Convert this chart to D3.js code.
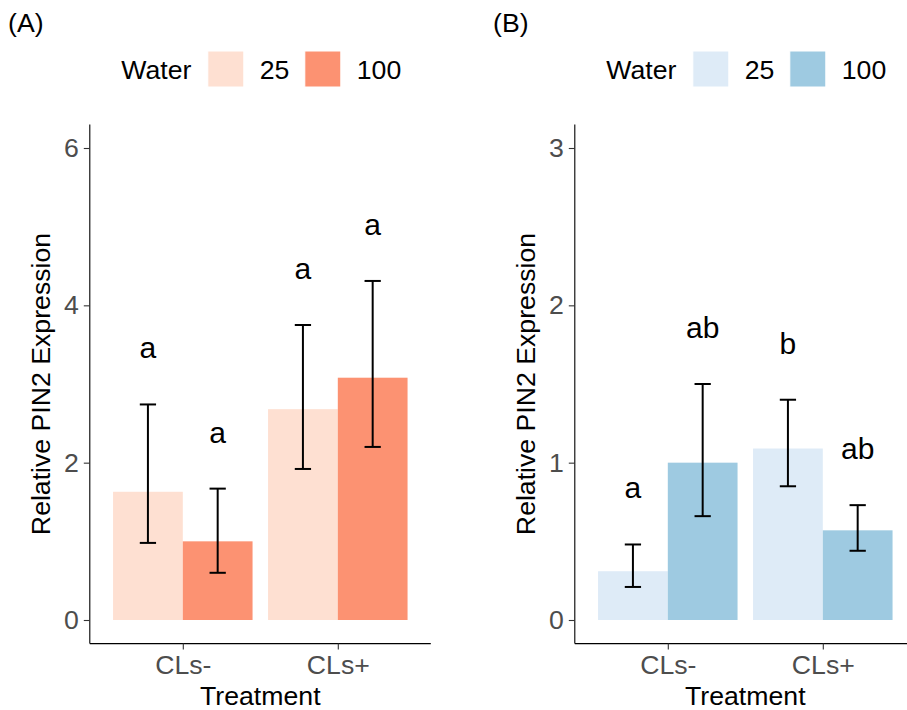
<!DOCTYPE html>
<html>
<head>
<meta charset="utf-8">
<script src="https://cdn.jsdelivr.net/npm/d3@7"></script>
<style>
    body { margin: 0; background: #fff; }
    svg { display: block; font-family: "Liberation Sans", Arial, sans-serif; }
</style>
</head>
<body>
<div id="chart"></div>
<script>
// shared categories
const treatments = ['CLs-', 'CLs+'];
const waterLevels = ['25', '100'];

// panel A (reds)
const meanA25 = [1.63, 2.68];
const meanA100 = [1.00, 3.08];
const lowA25 = [0.98, 1.92];
const highA25 = [2.74, 3.75];
const lowA100 = [0.60, 2.20];
const highA100 = [1.67, 4.31];
const lettersA25 = ['a', 'a'];
const lettersA100 = ['a', 'a'];
const ticksA = [0, 2, 4, 6];

// panel B (blues)
const meanB25 = [0.31, 1.09];
const meanB100 = [1.00, 0.57];
const lowB25 = [0.21, 0.85];
const highB25 = [0.48, 1.40];
const lowB100 = [0.66, 0.44];
const highB100 = [1.50, 0.73];
const lettersB25 = ['a', 'b'];
const lettersB100 = ['ab', 'ab'];
const ticksB = [0, 1, 2, 3];

const width = 907, height = 710;
const fs = '26.67px'; // 20pt base text

const svg = d3.select('#chart').append('svg')
    .attr('width', width)
    .attr('height', height);

function buildRows(means, lows, highs, letters, level) {
    return treatments.map((t, i) => ({
        treatment: t, water: level, mean: means[i], low: lows[i], high: highs[i], letter: letters[i]
    }));
}

function drawPanel(offsetX, tag, colors, ymax, ticks, rows) {
    const g = svg.append('g').attr('transform', `translate(${offsetX},0)`);
    const left = 89.8, right = 430.8, top = 124.4, bottom = 643.6;

    const x = d3.scalePoint().domain(treatments).range([left, right]).padding(0.6);
    const step = x.step();
    const barW = 0.45 * step;
    const pad = ymax * 0.05;
    const y = d3.scaleLinear().domain([-pad, ymax + pad]).range([bottom, top]);
    const color = d3.scaleOrdinal().domain(waterLevels).range(colors);

    const xPos = d => x(d.treatment) - barW + waterLevels.indexOf(d.water) * barW;

    // bars
    g.selectAll('.bar')
        .data(rows)
        .enter().append('rect')
        .attr('class', 'bar')
        .attr('x', xPos)
        .attr('width', barW)
        .attr('y', d => y(d.mean))
        .attr('height', d => y(0) - y(d.mean))
        .attr('fill', d => color(d.water));

    // error bars
    const capW = 0.105 * step;
    const eb = g.selectAll('.err')
        .data(rows)
        .enter().append('g')
        .attr('class', 'err')
        .attr('stroke', '#000')
        .attr('stroke-width', 2);
    eb.append('line')
        .attr('x1', d => xPos(d) + barW / 2).attr('x2', d => xPos(d) + barW / 2)
        .attr('y1', d => y(d.low)).attr('y2', d => y(d.high));
    eb.append('line')
        .attr('x1', d => xPos(d) + barW / 2 - capW / 2).attr('x2', d => xPos(d) + barW / 2 + capW / 2)
        .attr('y1', d => y(d.high)).attr('y2', d => y(d.high));
    eb.append('line')
        .attr('x1', d => xPos(d) + barW / 2 - capW / 2).attr('x2', d => xPos(d) + barW / 2 + capW / 2)
        .attr('y1', d => y(d.low)).attr('y2', d => y(d.low));

    // significance letters
    g.selectAll('.letter')
        .data(rows)
        .enter().append('text')
        .attr('class', 'letter')
        .attr('x', d => xPos(d) + barW / 2)
        .attr('y', d => y(d.high) - 46)
        .attr('text-anchor', 'middle')
        .style('font-size', '30px')
        .text(d => d.letter);

    // axes
    const yAxis = g.append('g')
        .attr('transform', `translate(${left},0)`)
        .call(d3.axisLeft(y).tickValues(ticks).tickSize(6).tickPadding(5).tickFormat(d3.format('d')));
    const xAxis = g.append('g')
        .attr('transform', `translate(0,${bottom})`)
        .call(d3.axisBottom(x).tickSize(6).tickPadding(5));
    [yAxis, xAxis].forEach(a => {
        a.select('.domain').attr('stroke', '#000').attr('stroke-width', 1.1);
        a.selectAll('.tick line').attr('stroke', '#333').attr('stroke-width', 1.1);
        a.selectAll('.tick text').attr('fill', '#4d4d4d').style('font-size', fs);
    });
    // stretch domain lines to the panel edges like ggplot
    yAxis.select('.domain').attr('d', `M0,${bottom}V${top}`);
    xAxis.select('.domain').attr('d', `M${left},0H${right}`);

    // axis titles
    g.append('text')
        .attr('transform', `translate(50,${(top + bottom) / 2}) rotate(-90)`)
        .attr('text-anchor', 'middle')
        .style('font-size', fs)
        .text('Relative PIN2 Expression');
    g.append('text')
        .attr('x', (left + right) / 2)
        .attr('y', 705)
        .attr('text-anchor', 'middle')
        .style('font-size', fs)
        .text('Treatment');

    // tag
    g.append('text')
        .attr('x', 8).attr('y', 32)
        .style('font-size', fs)
        .text(tag);

    // legend, centered over the panel
    const leg = g.append('g')
        .attr('transform', `translate(${(left + right) / 2 - 139},0)`);
    leg.append('text')
        .attr('x', 0).attr('y', 79)
        .style('font-size', fs)
        .text('Water');
    const items = leg.selectAll('.key')
        .data(waterLevels)
        .enter().append('g')
        .attr('class', 'key')
        .attr('transform', (d, i) => `translate(${86.5 + i * 97},51)`);
    items.append('rect')
        .attr('width', 36).attr('height', 36)
        .attr('fill', d => color(d))
        .attr('stroke', '#fff').attr('stroke-width', 1);
    items.append('text')
        .attr('x', 52).attr('y', 28)
        .style('font-size', fs)
        .text(d => d);
}

const rowsA = buildRows(meanA25, lowA25, highA25, lettersA25, '25')
    .concat(buildRows(meanA100, lowA100, highA100, lettersA100, '100'));
const rowsB = buildRows(meanB25, lowB25, highB25, lettersB25, '25')
    .concat(buildRows(meanB100, lowB100, highB100, lettersB100, '100'));

drawPanel(0, '(A)', ['#fee0d2', '#fc9272'], 6, ticksA, rowsA);
drawPanel(485, '(B)', ['#deebf7', '#9ecae1'], 3, ticksB, rowsB);
</script>
</body>
</html>
